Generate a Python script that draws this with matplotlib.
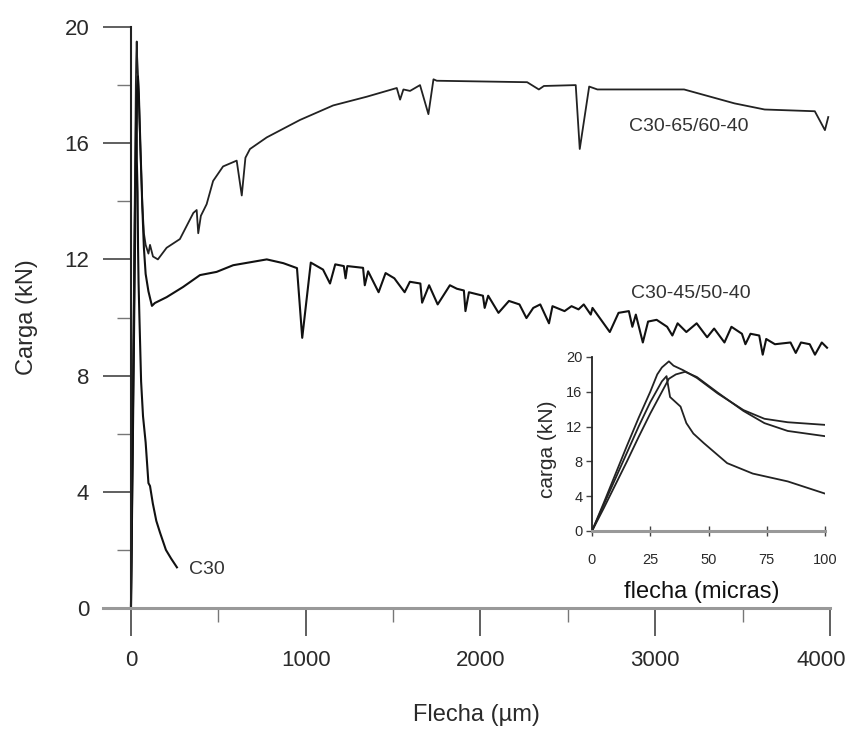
import matplotlib.pyplot as plt
import matplotlib.transforms as mtransforms
from matplotlib.ticker import MultipleLocator

plt.rcParams['font.family'] = ['Liberation Sans', 'DejaVu Sans']

# C30 (plain concrete)
c30_x = [0, 5, 10, 15, 20, 25, 30, 32, 33.5, 38, 40.5, 43.5, 48, 58, 69, 84, 100,
         109, 125, 145, 166, 200, 230, 263]
c30_y = [0, 3.0, 6.0, 9.0, 12.0, 14.8, 17.2, 17.8, 15.4, 14.3, 12.4, 11.2, 10.1, 7.8, 6.6, 5.7, 4.3,
         4.2, 3.6, 3.0, 2.6, 2.0, 1.7, 1.4]

# C30-65/60-40
f65_x = [0, 5, 10, 15, 20, 25, 28, 30, 33, 35, 39, 45, 54, 65, 74, 84, 100,
         109, 126, 154, 204, 280, 357, 376, 385, 400, 433, 470, 527, 605, 634, 655, 681,
         777, 967, 1157, 1349, 1521, 1540, 1559, 1597, 1654, 1702, 1731, 1750, 2267, 2334,
         2363, 2545, 2568, 2622, 2669, 3165, 3454, 3626, 3913, 3971, 3990]
f65_y = [0, 3.2, 6.5, 9.8, 13.0, 16.0, 18.0, 18.8, 19.5, 19.0, 18.5, 17.6, 15.8, 13.9, 12.9, 12.5, 12.2,
         12.5, 12.1, 12.0, 12.4, 12.7, 13.6, 13.7, 12.9, 13.5, 13.9, 14.7, 15.2, 15.4, 14.2, 15.5, 15.8,
         16.2, 16.8, 17.3, 17.6, 17.9, 17.5, 17.85, 17.8, 18.0, 17.0, 18.2, 18.15, 18.1, 17.85,
         17.97, 18.0, 15.8, 17.95, 17.85, 17.85, 17.37, 17.16, 17.1, 16.45, 16.9]

# C30-45/50-40
f45_x = [0, 5, 10, 15, 20, 25, 30, 33, 36, 40, 45, 54, 65, 74, 84, 100,
         120, 137, 204, 298, 395, 490, 585, 681, 777, 872, 950, 980, 1029, 1099, 1139, 1169,
         1218, 1228, 1238, 1328, 1338, 1357, 1417, 1457, 1507, 1566, 1596, 1656, 1666, 1706,
         1755, 1825, 1865, 1905, 1914, 1934, 2014, 2024, 2044, 2103, 2163, 2223, 2263, 2302,
         2342, 2392, 2412, 2481, 2521, 2561, 2591, 2631, 2641, 2740, 2790, 2849, 2869, 2889,
         2929, 2959, 3008, 3068, 3098, 3128, 3178, 3237, 3297, 3337, 3396, 3436, 3496, 3516,
         3545, 3595, 3615, 3635, 3685, 3774, 3804, 3834, 3884, 3914, 3953, 3983]
f45_y = [0, 2.6, 5.3, 8.0, 10.8, 13.5, 16.0, 17.5, 18.0, 18.3, 17.7, 15.9, 13.8, 12.4, 11.5, 10.9,
         10.4, 10.5, 10.7, 11.05, 11.46, 11.57, 11.8, 11.9, 12.0, 11.87, 11.7, 9.3, 11.89, 11.65, 11.17, 11.83,
         11.77, 11.35, 11.77, 11.71, 11.11, 11.59, 10.87, 11.53, 11.35, 10.87, 11.23, 11.17, 10.51, 11.11,
         10.45, 11.11, 10.99, 10.93, 10.22, 10.87, 10.75, 10.33, 10.75, 10.16, 10.57, 10.45, 9.98, 10.33,
         10.45, 9.80, 10.39, 10.22, 10.39, 10.28, 10.45, 10.10, 10.33, 9.50, 10.16, 10.22, 9.68, 10.10,
         9.14, 9.86, 9.92, 9.68, 9.38, 9.80, 9.50, 9.80, 9.32, 9.62, 9.14, 9.68, 9.44, 9.08,
         9.44, 9.38, 8.72, 9.26, 9.08, 9.14, 8.78, 9.14, 9.08, 8.72, 9.14, 8.96]

labels = ['C30', 'C30-65/60-40', 'C30-45/50-40']
label_pos = [(435, 1.31), (3190, 16.56), (3205, 10.81)]

txt = '#2a2a2a'
fig = plt.figure(figsize=(8.48, 7.38), dpi=100)

# main plot
ax = fig.add_axes([103 / 848, 1 - 608 / 738, 727 / 848, 581 / 738])
ax.plot(c30_x, c30_y, color='#111111', lw=1.5)
ax.plot(f65_x, f65_y, color='#222222', lw=1.3)
ax.plot(f45_x, f45_y, color='#111111', lw=1.5)
for lab, (lx, ly) in zip(labels, label_pos):
    ax.text(lx, ly, lab, fontsize=14, color='#333333', ha='center', va='center')

ax.set_xlim(-160, 4000)
ax.set_ylim(0, 20)
ax.spines['top'].set_visible(False)
ax.spines['right'].set_visible(False)
ax.spines['left'].set_position(('data', 0))
ax.spines['left'].set_color('#222222')
ax.spines['left'].set_linewidth(1.5)
ax.spines['bottom'].set_color('#999999')
ax.spines['bottom'].set_linewidth(2.2)
ax.set_xticks([0, 1000, 2000, 3000, 4000])
ax.set_yticks([0, 4, 8, 12, 16, 20])
ax.xaxis.set_minor_locator(MultipleLocator(500))
ax.yaxis.set_minor_locator(MultipleLocator(2))
ax.tick_params(which='major', length=20, width=1.2, color='#444444', pad=10,
               labelsize=16, labelcolor=txt)
ax.tick_params(which='minor', length=10, width=1.0, color='#777777')
ax.set_xlabel('Flecha (µm)', fontsize=17, color=txt)
ax.set_ylabel('Carga (kN)', fontsize=17, color=txt)
ax.xaxis.set_label_coords(0.514, -0.165)
ax.yaxis.set_label_coords(-0.09, 0.5)

# keep the last x label inside the figure edge
fig.canvas.draw()
last = ax.get_xticklabels()[-1]
last.set_transform(last.get_transform() +
                   mtransforms.ScaledTranslation(-9 / 100, 0, fig.dpi_scale_trans))

# inset, first 100 micras
ins = fig.add_axes([592 / 848, 1 - 531 / 738, 233 / 848, 174 / 738])
ins.plot(c30_x, c30_y, color='#222222', lw=1.3)
ins.plot(f65_x, f65_y, color='#222222', lw=1.3)
ins.plot(f45_x, f45_y, color='#222222', lw=1.3)
ins.set_xlim(0, 100)
ins.set_ylim(0, 20)
ins.patch.set_alpha(0)
ins.spines['top'].set_visible(False)
ins.spines['right'].set_visible(False)
ins.spines['left'].set_color('#222222')
ins.spines['left'].set_linewidth(1.3)
ins.spines['bottom'].set_color('#999999')
ins.spines['bottom'].set_linewidth(2.2)
ins.set_xticks([0, 25, 50, 75, 100])
ins.set_yticks([0, 4, 8, 12, 16, 20])
ins.tick_params(axis='x', direction='inout', length=7, width=1.0, color='#444444', pad=12,
                labelsize=10.5, labelcolor=txt)
ins.tick_params(axis='y', length=4, width=1.0, color='#444444', pad=3,
                labelsize=10.5, labelcolor=txt)
ins.set_xlabel('flecha (micras)', fontsize=17, color='#111111')
ins.set_ylabel('carga (kN)', fontsize=15, color=txt)
ins.xaxis.set_label_coords(0.47, -0.29)
ins.yaxis.set_label_coords(-0.15, 0.47)

plt.savefig('out.png', dpi=100)
